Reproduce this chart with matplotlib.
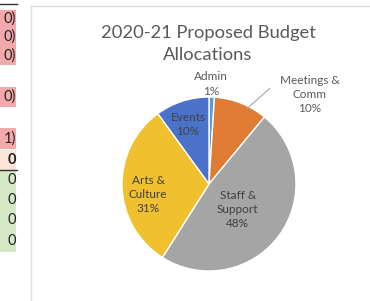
import matplotlib.pyplot as plt
from matplotlib.patches import Rectangle
from matplotlib.lines import Line2D

W, H = 370, 301

# pie data (clockwise from 12 o'clock)
labels = ["Admin\n1%", "Meetings &\nComm\n10%", "Staff &\nSupport\n48%",
          "Arts &\nCulture\n31%", "Events\n10%"]
shares = [1, 10, 48, 31, 10]
colors = ["#5b9bd5", "#e07b34", "#a5a5a5", "#f0c02e", "#4a72c8"]
# label spots in pie data units (radius = 1)
label_xy = [(0.02, 1.15), (1.16, 1.03), (0.33, -0.29), (-0.70, -0.12), (-0.24, 0.68)]

# spreadsheet cells peeking in on the left
cell_text = ["0)", "0)", "0)", "0)", "1)", "0", "0", "0", "0", "0"]
cell_top = [10, 28, 46, 87, 128, 150, 170, 190, 210, 230]
cell_h = [18, 18, 19, 20, 21, 20, 20, 20, 20, 22]
cell_fill = ["#f2a9ab"] * 5 + ["#fbe5d6"] + ["#d5e7c4"] * 4

fig = plt.figure(figsize=(W / 100, H / 100), dpi=100)
fig.patch.set_facecolor("white")
plt.rcParams['font.family'] = ['Lato', 'DejaVu Sans']

def fx(px):
    return px / W

def fy(py):
    return 1 - py / H

for t, top, h, c in zip(cell_text, cell_top, cell_h, cell_fill):
    fig.patches.append(Rectangle((0, fy(top + h)), fx(16), h / H, transform=fig.transFigure,
                                 facecolor=c, edgecolor="none"))
    bold = t == "0" and c == "#fbe5d6"
    fig.text(fx(16), fy(top + h / 2), t, ha="right", va="center", fontsize=10.5,
             color="#222222", fontweight="bold" if bold else "normal")
fig.lines.append(Line2D([0, fx(17)], [fy(170), fy(170)], transform=fig.transFigure,
                        color="#333333", lw=1))
fig.lines.append(Line2D([0, fx(17)], [fy(4), fy(4)], transform=fig.transFigure,
                        color="#333333", lw=1))

# chart area border
fig.lines.append(Line2D([fx(31), fx(31)], [0, fy(6)], transform=fig.transFigure,
                        color="#dddddd", lw=1))
fig.lines.append(Line2D([fx(31), 1], [fy(6), fy(6)], transform=fig.transFigure,
                        color="#dddddd", lw=1))

fig.text(fx(208), fy(44), "2020-21 Proposed Budget\nAllocations", ha="center", va="center",
         fontsize=13.2, color="#595959", linespacing=1.45)

cx, cy, r = 209, 184, 87
ax = fig.add_axes([fx(cx - r), fy(cy + r), 2 * r / W, 2 * r / H])
ax.pie(shares, colors=colors, startangle=90, counterclock=False,
       wedgeprops=dict(edgecolor="white", linewidth=1))
ax.set_xlim(-1, 1)
ax.set_ylim(-1, 1)
ax.axis("off")

for i, (lab, (x, y)) in enumerate(zip(labels, label_xy)):
    col = "#404040" if i >= 2 else "#595959"
    ax.text(x, y, lab, ha="center", va="center", fontsize=8.5, color=col,
            linespacing=1.35, clip_on=False)

# leader line for Meetings & Comm
ax.plot([0.44, 0.70], [0.87, 1.10], color="#a6a6a6", lw=0.8, clip_on=False)

fig.savefig("out.png", dpi=100)
